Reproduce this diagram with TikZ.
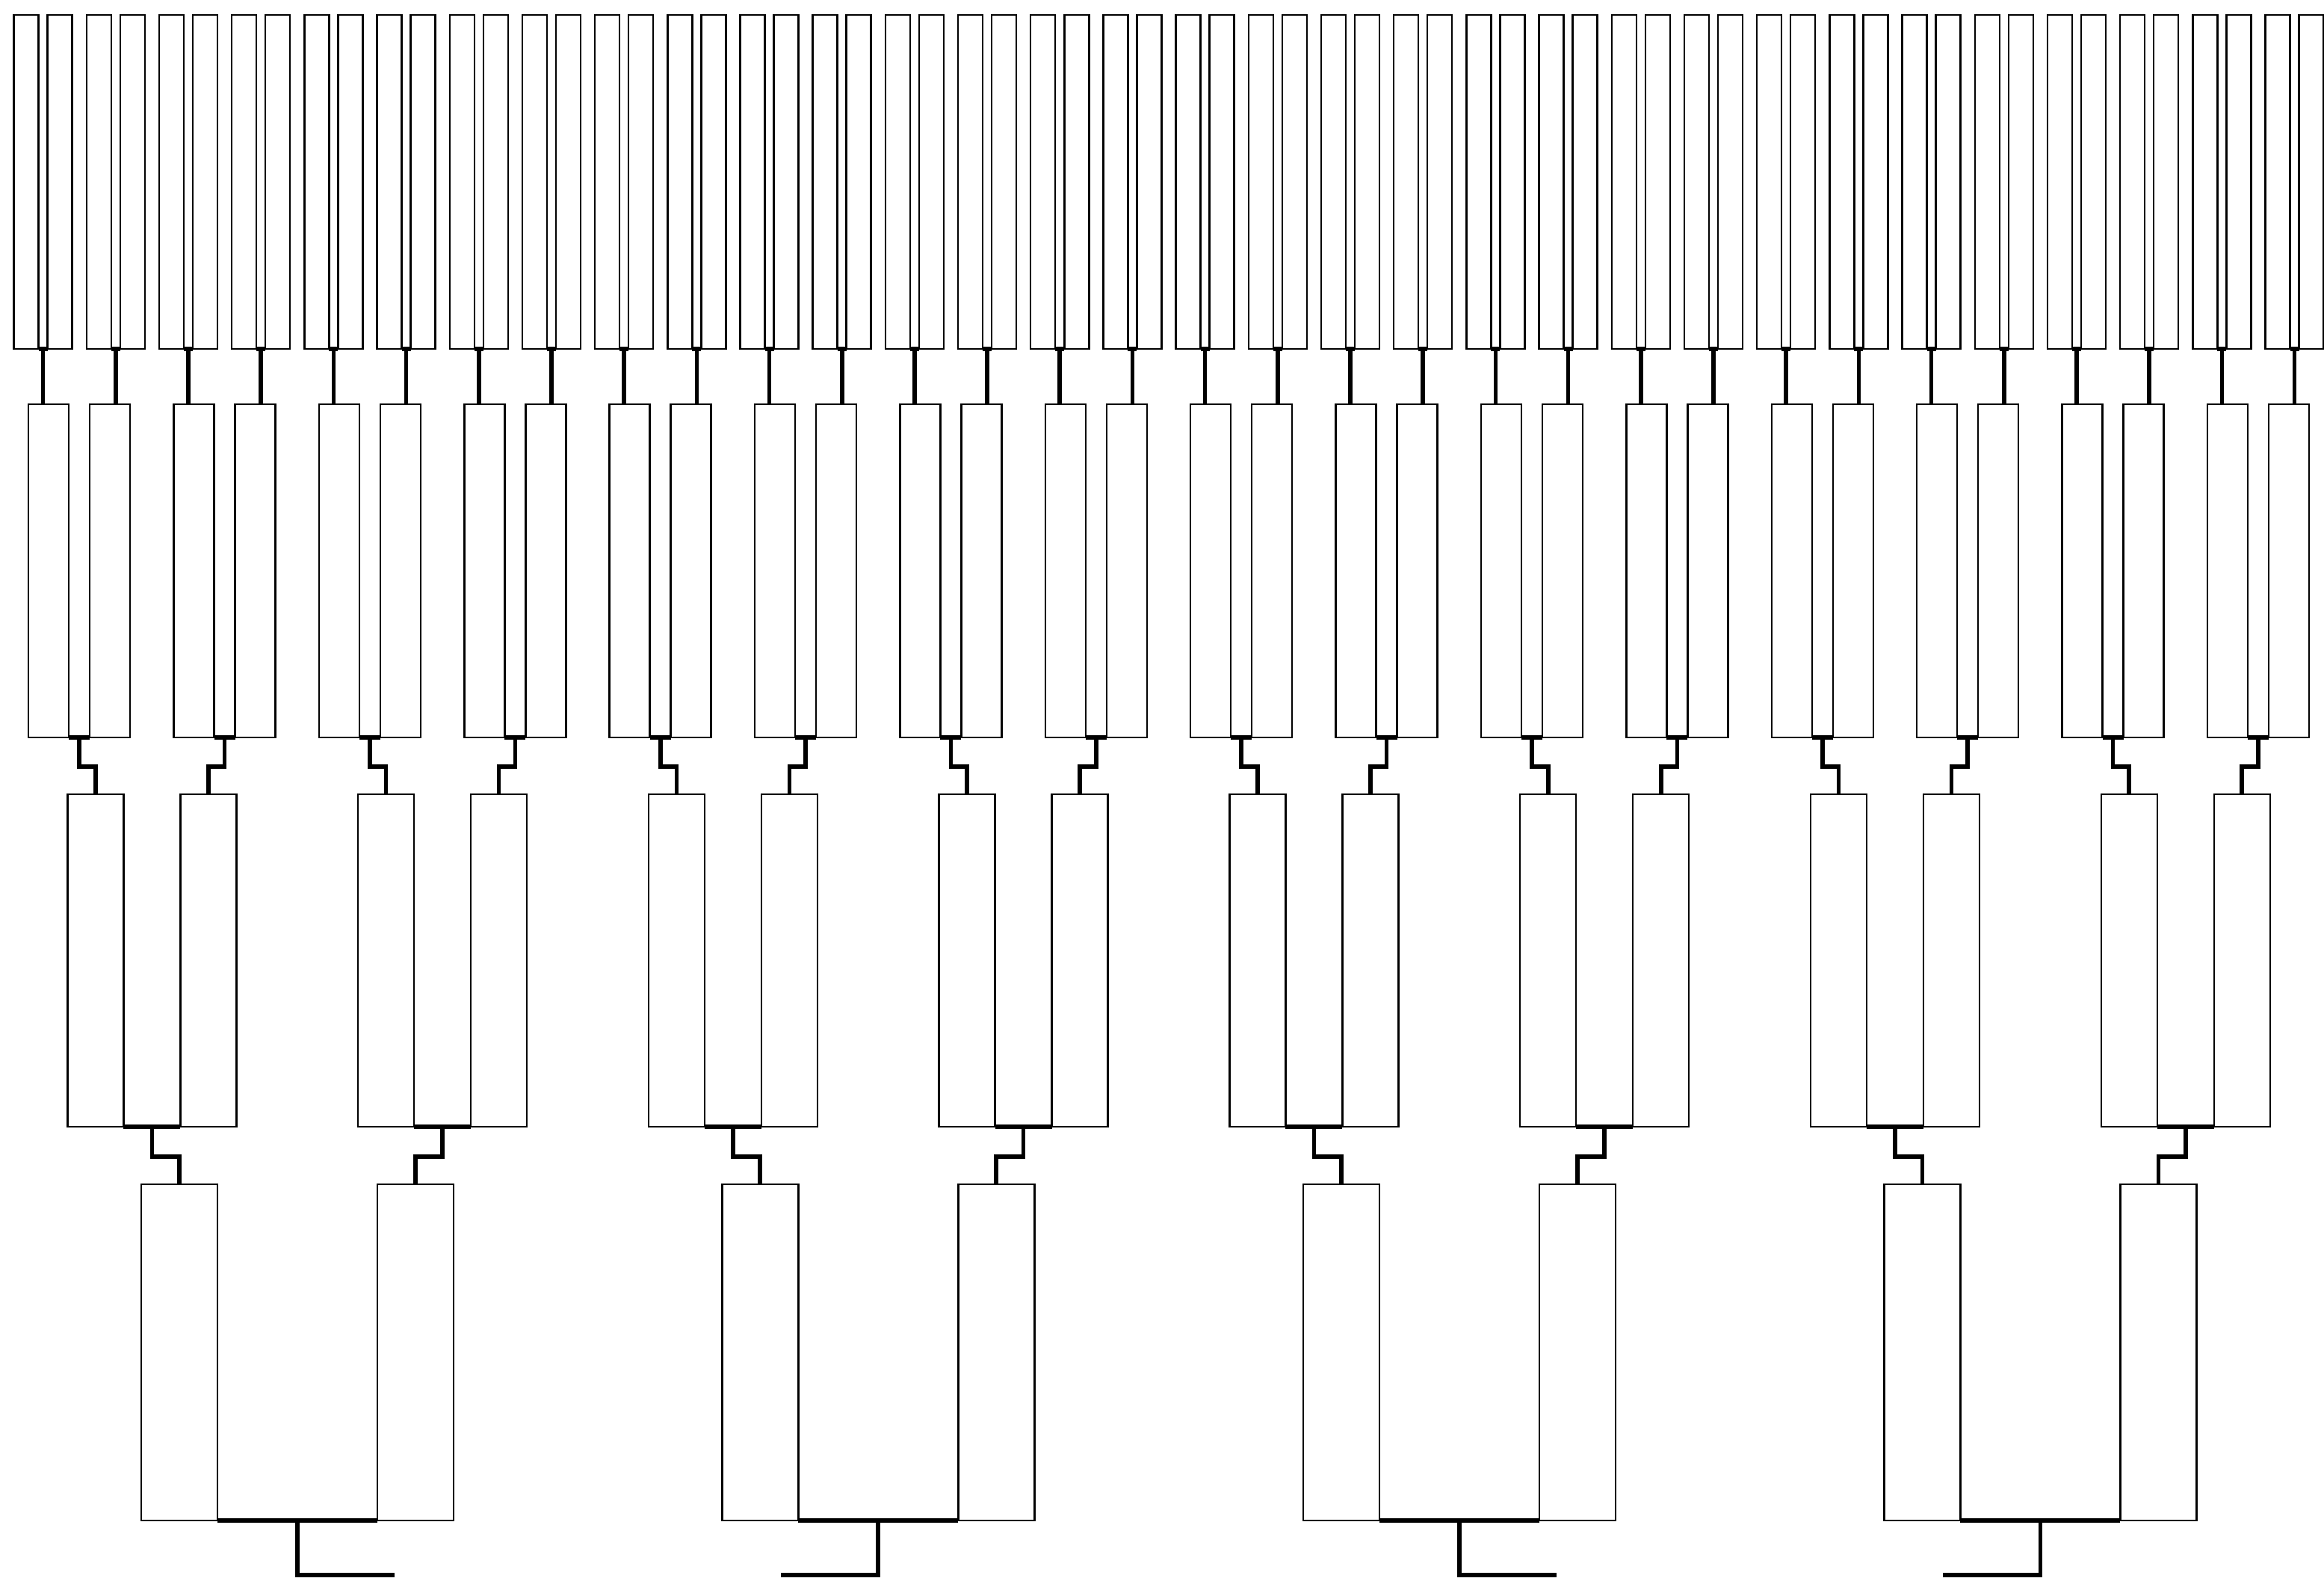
\documentclass[tikz,border=0pt]{standalone}
\usepackage{tikz}
\usetikzlibrary{calc}

\begin{document}
\begin{tikzpicture}[
    box/.style={
        draw, line width=0.7pt, inner sep=0pt, outer sep=0pt,
        minimum height=4.46cm
    },
    gggbox/.style={box, minimum width=0.33cm, minimum height=4.47cm},
    ggbox/.style={box, minimum width=0.54cm},
    gbox/.style={box, minimum width=0.75cm, minimum height=4.45cm},
    pbox/.style={box, minimum width=1.02cm, minimum height=4.50cm},
    link/.style={line width=1.6pt}
]

% --- Frame ---
\useasboundingbox (0,0) rectangle (31.1,-21.2);

% --- Top row: great-great-grandparents (32 pairs) ---
\foreach \k in {0,...,31}{
    \pgfmathsetmacro\px{0.9719*(\k+0.5)+0.09}
    \pgfmathtruncatemacro\lft{2*\k}
    \pgfmathtruncatemacro\rgt{2*\k+1}
    \node[gggbox] (ggg\lft) at (\px-0.225,-2.435) {};
    \node[gggbox] (ggg\rgt) at (\px+0.225,-2.435) {};
}

% --- Second row: great-grandparents (16 pairs) ---
\foreach \k in {0,...,15}{
    \pgfmathsetmacro\px{1.9438*(\k+0.5)+0.09}
    \pgfmathtruncatemacro\lft{2*\k}
    \pgfmathtruncatemacro\rgt{2*\k+1}
    \node[ggbox] (gg\lft) at (\px-0.41,-7.64) {};
    \node[ggbox] (gg\rgt) at (\px+0.41,-7.64) {};
}

% --- Third row: grandparents (8 pairs) ---
\foreach \k in {0,...,7}{
    \pgfmathsetmacro\px{3.8876*(\k+0.5)+0.09}
    \pgfmathtruncatemacro\lft{2*\k}
    \pgfmathtruncatemacro\rgt{2*\k+1}
    \node[gbox] (g\lft) at (\px-0.755,-12.855) {};
    \node[gbox] (g\rgt) at (\px+0.755,-12.855) {};
}

% --- Bottom row: parents (4 pairs) ---
\foreach \k in {0,...,3}{
    \pgfmathsetmacro\px{7.7752*(\k+0.5)+0.09}
    \pgfmathtruncatemacro\lft{2*\k}
    \pgfmathtruncatemacro\rgt{2*\k+1}
    \node[pbox] (p\lft) at (\px-1.58,-18.10) {};
    \node[pbox] (p\rgt) at (\px+1.58,-18.10) {};
    \pgfmathsetmacro\dx{ifthenelse(mod(\k,2)==0,1.30,-1.30)}
    \coordinate (out\k) at (\px+\dx,-21.08);
}

% --- Links: top row -> second row ---
\foreach \k in {0,...,31}{
    \pgfmathtruncatemacro\lft{2*\k}
    \pgfmathtruncatemacro\rgt{2*\k+1}
    \draw[link] (ggg\lft.south east) -- (ggg\rgt.south west);
    \coordinate (m) at ($(ggg\lft.south east)!0.5!(ggg\rgt.south west)$);
    \draw[link] (m) -- (m |- gg\k.north);
}

% --- Links: second row -> third row ---
\foreach \k in {0,...,15}{
    \pgfmathtruncatemacro\lft{2*\k}
    \pgfmathtruncatemacro\rgt{2*\k+1}
    \draw[link] (gg\lft.south east) -- (gg\rgt.south west);
    \coordinate (m) at ($(gg\lft.south east)!0.5!(gg\rgt.south west)$);
    \draw[link] (m) -- ++(0,-0.39) -| (g\k.north);
}

% --- Links: third row -> bottom row ---
\foreach \k in {0,...,7}{
    \pgfmathtruncatemacro\lft{2*\k}
    \pgfmathtruncatemacro\rgt{2*\k+1}
    \draw[link] (g\lft.south east) -- (g\rgt.south west);
    \coordinate (m) at ($(g\lft.south east)!0.5!(g\rgt.south west)$);
    \draw[link] (m) -- ++(0,-0.40) -| (p\k.north);
}

% --- Links: bottom row -> off page ---
\foreach \k in {0,...,3}{
    \pgfmathtruncatemacro\lft{2*\k}
    \pgfmathtruncatemacro\rgt{2*\k+1}
    \draw[link] (p\lft.south east) -- (p\rgt.south west);
    \coordinate (m) at ($(p\lft.south east)!0.5!(p\rgt.south west)$);
    \draw[link] (m) |- (out\k);
}

\end{tikzpicture}
\end{document}
